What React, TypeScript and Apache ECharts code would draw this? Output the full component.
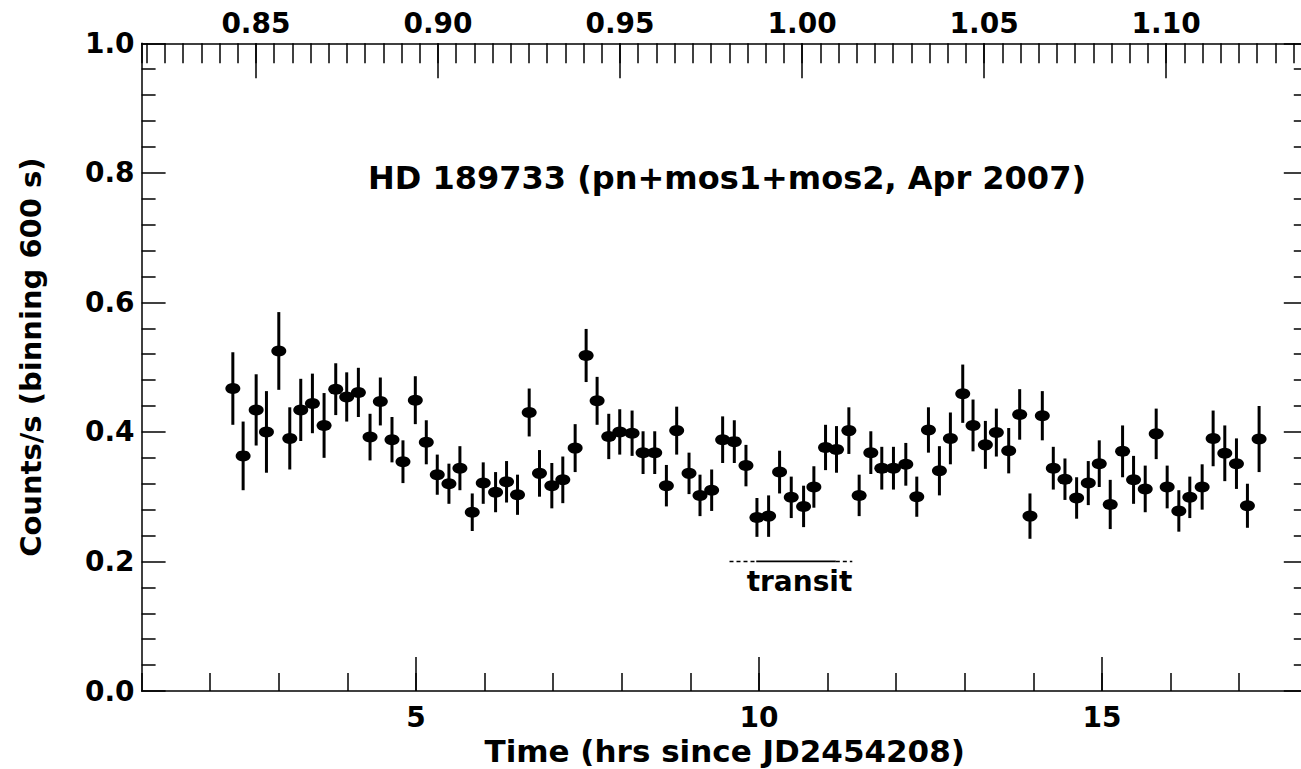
import React, { useEffect, useRef } from "react";
import * as echarts from "echarts";

// ---- data ----
const TIME_HRS = [
  2.33, 2.48, 2.67, 2.82, 3.0, 3.16, 3.32, 3.49, 3.66, 3.83,
  3.99, 4.16, 4.33, 4.48, 4.65, 4.81, 4.99, 5.15, 5.31, 5.48,
  5.64, 5.82, 5.98, 6.16, 6.32, 6.48, 6.65, 6.8, 6.98, 7.14,
  7.32, 7.48, 7.64, 7.81, 7.97, 8.15, 8.31, 8.48, 8.65, 8.8,
  8.98, 9.14, 9.31, 9.47, 9.64, 9.81, 9.97, 10.14, 10.3, 10.47,
  10.65, 10.8, 10.97, 11.13, 11.31, 11.46, 11.63, 11.79, 11.96, 12.14,
  12.3, 12.47, 12.63, 12.79, 12.97, 13.12, 13.3, 13.46, 13.64, 13.8,
  13.95, 14.13, 14.29, 14.46, 14.63, 14.8, 14.96, 15.12, 15.3, 15.46,
  15.63, 15.79, 15.95, 16.12, 16.28, 16.46, 16.62, 16.79, 16.96, 17.12, 17.29,
];
const COUNT_RATE = [
  0.467, 0.363, 0.434, 0.4, 0.525, 0.39, 0.434, 0.444, 0.41, 0.466,
  0.454, 0.461, 0.392, 0.447, 0.388, 0.354, 0.449, 0.384, 0.334, 0.32,
  0.344, 0.276, 0.321, 0.307, 0.323, 0.303, 0.43, 0.336, 0.317, 0.326,
  0.375, 0.518, 0.448, 0.393, 0.4, 0.398, 0.368, 0.368, 0.317, 0.402,
  0.336, 0.302, 0.31, 0.388, 0.385, 0.348, 0.268, 0.27, 0.338, 0.299,
  0.285, 0.315, 0.376, 0.373, 0.402, 0.302, 0.368, 0.344, 0.344, 0.35,
  0.3, 0.403, 0.34, 0.39, 0.459, 0.41, 0.38, 0.399, 0.371, 0.427,
  0.27, 0.425, 0.344, 0.327, 0.298, 0.321, 0.351, 0.288, 0.37, 0.326,
  0.312, 0.397, 0.315, 0.278, 0.299, 0.315, 0.39, 0.367, 0.351, 0.286, 0.389,
];
const RATE_ERR = [
  0.056, 0.053, 0.055, 0.063, 0.06, 0.048, 0.048, 0.046, 0.05, 0.04,
  0.038, 0.038, 0.036, 0.037, 0.035, 0.033, 0.037, 0.034, 0.031, 0.031,
  0.034, 0.029, 0.032, 0.031, 0.032, 0.031, 0.037, 0.036, 0.035, 0.036,
  0.037, 0.041, 0.037, 0.035, 0.035, 0.035, 0.033, 0.033, 0.032, 0.037,
  0.032, 0.032, 0.032, 0.036, 0.033, 0.032, 0.03, 0.032, 0.033, 0.032,
  0.032, 0.032, 0.035, 0.036, 0.036, 0.032, 0.033, 0.033, 0.033, 0.033,
  0.031, 0.035, 0.038, 0.04, 0.045, 0.04, 0.037, 0.037, 0.035, 0.039,
  0.035, 0.038, 0.033, 0.032, 0.032, 0.034, 0.036, 0.038, 0.04, 0.037,
  0.036, 0.039, 0.033, 0.032, 0.032, 0.035, 0.043, 0.043, 0.039, 0.034, 0.051,
];

// transit marker (hours) at count-rate level
const TRANSIT_LEVEL = 0.2;
const TRANSIT_INGRESS = [9.57, 9.96];
const TRANSIT_FULL = [9.96, 11.12];
const TRANSIT_EGRESS = [11.12, 11.36];
const TRANSIT_LABEL_T = 10.59;

// axes
const TIME_RANGE = [1, 18];
const PHASE_RANGE = [0.8186, 1.1389];
const RATE_RANGE = [0, 1];

const TITLE = "HD 189733 (pn+mos1+mos2, Apr 2007)";
const X_NAME = "Time (hrs since JD2454208)";
const Y_NAME = "Counts/s (binning 600 s)";

const FONT = "DejaVu Sans";

export default function App() {
  const ref = useRef<HTMLDivElement>(null);

  useEffect(() => {
    const chart = echarts.init(ref.current!, null, { renderer: "svg" });
    const black = "#000";
    const lineStyle = { color: black, width: 1.5 };
    const tickLabel = { color: black, fontFamily: FONT, fontSize: 28, fontWeight: "bold" as const };

    const errData = TIME_HRS.map((t, i) => [t, COUNT_RATE[i] - RATE_ERR[i], COUNT_RATE[i] + RATE_ERR[i]]);
    const ptData = TIME_HRS.map((t, i) => [t, COUNT_RATE[i]]);

    const gridL = 141.6;
    const gridT = 43.3;
    const gridW = 1166.2;
    const gridH = 647.7;

    const option: any = {
      animation: false,
      backgroundColor: "#fff",
      grid: { left: gridL, top: gridT, width: gridW, height: gridH, containLabel: false, outerBoundsMode: "none" },
      xAxis: [
        {
          type: "value", position: "bottom", min: TIME_RANGE[0], max: TIME_RANGE[1],
          splitNumber: 3, minInterval: 5, maxInterval: 5,
          axisLine: { show: true, onZero: false, lineStyle },
          axisTick: { show: true, inside: true, length: 34, lineStyle },
          axisLabel: { ...tickLabel, showMinLabel: false, showMaxLabel: false, margin: 12 },
          splitLine: { show: false },
          name: X_NAME, nameLocation: "middle", nameGap: 35,
          nameTextStyle: { color: black, fontFamily: FONT, fontSize: 31, fontWeight: "bold" },
        },
        {
          type: "value", position: "bottom", min: TIME_RANGE[0], max: TIME_RANGE[1], interval: 1,
          axisLine: { show: false, onZero: false },
          axisTick: { show: true, inside: true, length: 18, lineStyle },
          axisLabel: { show: false }, splitLine: { show: false },
        },
        {
          type: "value", position: "top", min: PHASE_RANGE[0], max: PHASE_RANGE[1],
          splitNumber: 6, minInterval: 0.05, maxInterval: 0.05,
          axisLine: { show: true, onZero: false, lineStyle },
          axisTick: { show: true, inside: true, length: 35, lineStyle },
          axisLabel: { ...tickLabel, showMinLabel: false, showMaxLabel: false, margin: 6, formatter: (v: number) => v.toFixed(2) },
          splitLine: { show: false },
        },
        {
          type: "value", position: "top", min: PHASE_RANGE[0], max: PHASE_RANGE[1],
          splitNumber: 64, minInterval: 0.005, maxInterval: 0.005,
          axisLine: { show: false, onZero: false },
          axisTick: { show: true, inside: true, length: 20, lineStyle },
          axisLabel: { show: false }, splitLine: { show: false },
        },
      ],
      yAxis: [
        {
          type: "value", position: "left", min: RATE_RANGE[0], max: RATE_RANGE[1], interval: 0.2,
          axisLine: { show: true, onZero: false, lineStyle },
          axisTick: { show: true, inside: true, length: 24, lineStyle },
          minorTick: { show: true, splitNumber: 5, length: 14, lineStyle },
          axisLabel: { ...tickLabel, margin: 7, formatter: (v: number) => v.toFixed(1) },
          splitLine: { show: false }, minorSplitLine: { show: false },
          name: Y_NAME, nameLocation: "middle", nameGap: 96,
          nameTextStyle: { color: black, fontFamily: FONT, fontSize: 29, fontWeight: "bold", padding: [0, 0, 0, 20] },
        },
        {
          type: "value", position: "right", min: RATE_RANGE[0], max: RATE_RANGE[1], interval: 0.2,
          axisLine: { show: true, onZero: false, lineStyle },
          axisTick: { show: true, inside: true, length: 24, lineStyle },
          minorTick: { show: true, splitNumber: 5, length: 14, lineStyle },
          axisLabel: { show: false },
          splitLine: { show: false }, minorSplitLine: { show: false },
        },
      ],
      series: [
        {
          type: "custom", xAxisIndex: 0, yAxisIndex: 0, data: errData, z: 2,
          renderItem: (_p: any, api: any) => {
            const a = api.coord([api.value(0), api.value(1)]);
            const b = api.coord([api.value(0), api.value(2)]);
            return {
              type: "line",
              shape: { x1: a[0], y1: a[1], x2: b[0], y2: b[1] },
              style: { stroke: black, lineWidth: 3 },
            };
          },
        },
        {
          type: "scatter", xAxisIndex: 0, yAxisIndex: 0, data: ptData, z: 3,
          symbol: "circle", symbolSize: [15, 11], itemStyle: { color: black, opacity: 1 },
        },
        {
          type: "line", xAxisIndex: 0, yAxisIndex: 0, symbol: "none",
          data: TRANSIT_INGRESS.map((t) => [t, TRANSIT_LEVEL]),
          lineStyle: { color: black, width: 1.5, type: [4, 3] },
        },
        {
          type: "line", xAxisIndex: 0, yAxisIndex: 0, symbol: "none",
          data: TRANSIT_FULL.map((t) => [t, TRANSIT_LEVEL]),
          lineStyle: { color: black, width: 1.8 },
        },
        {
          type: "line", xAxisIndex: 0, yAxisIndex: 0, symbol: "none",
          data: TRANSIT_EGRESS.map((t) => [t, TRANSIT_LEVEL]),
          lineStyle: { color: black, width: 1.5, type: [4, 3] },
        },
        {
          type: "scatter", xAxisIndex: 0, yAxisIndex: 0, symbolSize: 0, silent: true,
          data: [[TRANSIT_LABEL_T, TRANSIT_LEVEL]],
          itemStyle: { color: black, opacity: 1 },
          label: {
            show: true, position: "bottom", distance: 6, formatter: "transit",
            color: black, opacity: 1, fontFamily: FONT, fontSize: 28, fontWeight: "bold",
          },
        },
      ],
      graphic: [
        {
          type: "text", x: 727, y: 178,
          style: { text: TITLE, fill: black, fontFamily: FONT, fontSize: 32, fontWeight: "bold", align: "center", verticalAlign: "middle" },
        },
      ],
    };

    chart.setOption(option);
    return () => chart.dispose();
  }, []);

  return (
    <div
      ref={ref}
      style={{ position: "fixed", left: 0, top: 0, width: 1310, height: 769, background: "#fff" }}
    />
  );
}
